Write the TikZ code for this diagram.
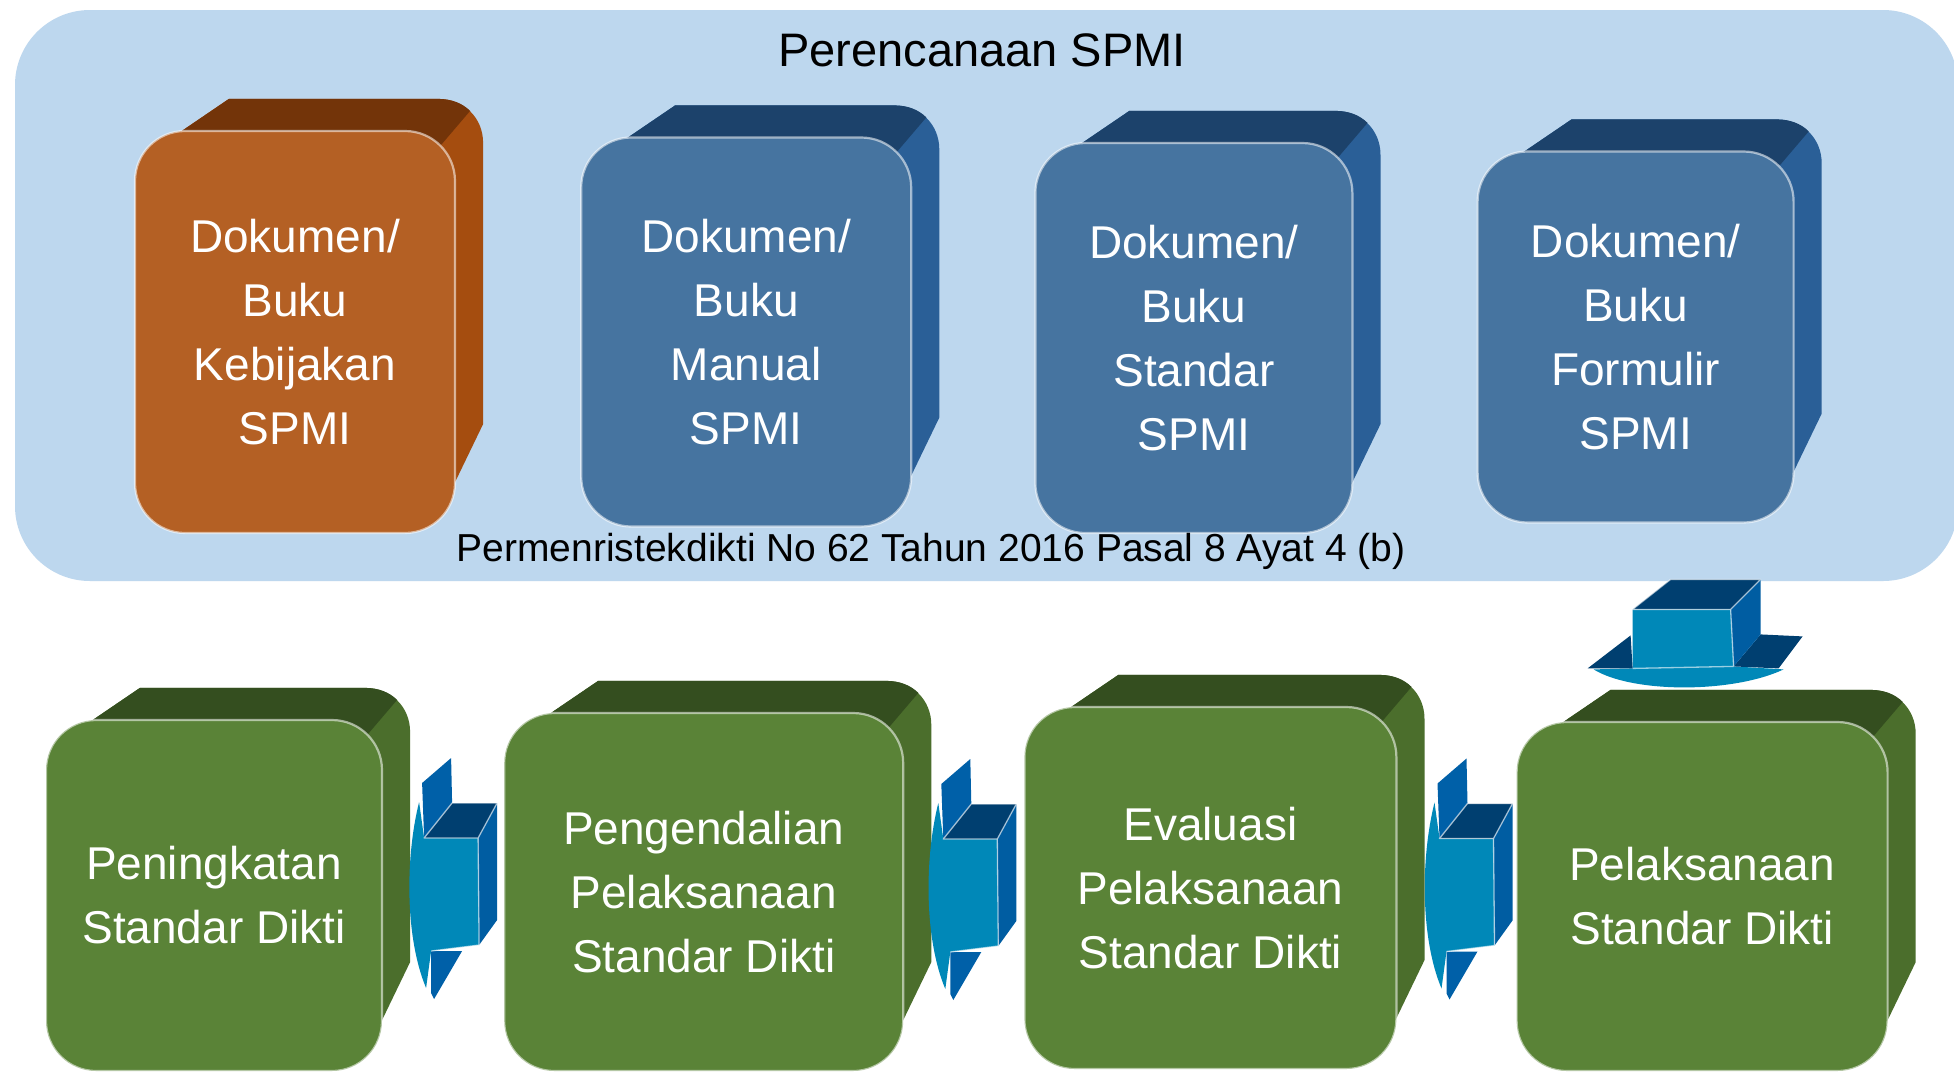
\documentclass[tikz,border=0pt]{standalone}
\usepackage{fontspec}
\setmainfont{Liberation Sans}
\usetikzlibrary{calc,positioning}
\definecolor{panel}{HTML}{BDD7EE}
\definecolor{oranye}{HTML}{B46024}
\definecolor{oranyeatas}{HTML}{733409}
\definecolor{oranyesisi}{HTML}{A54D0F}
\definecolor{biru}{HTML}{4674A0}
\definecolor{biruatas}{HTML}{1C426B}
\definecolor{birusisi}{HTML}{2A5F97}
\definecolor{hijau}{HTML}{5A8337}
\definecolor{hijauatas}{HTML}{344E1F}
\definecolor{hijausisi}{HTML}{4B6E2C}
\definecolor{panahmuka}{HTML}{0088B8}
\definecolor{panahgelap}{HTML}{003F70}
\definecolor{panahsayap}{HTML}{0060A8}
\definecolor{panahsisi}{HTML}{005DA2}
\pgfdeclarelayer{latar}
\pgfdeclarelayer{tengah}
\pgfsetlayers{latar,tengah,main}
\tikzset{
  muka/.style={rounded corners=50pt, draw=white, draw opacity=0.55, line width=2.2pt,
    text=white, align=center, inner sep=0pt, font=\fontsize{46pt}{64pt}\selectfont},
  tepi/.style={draw=white, draw opacity=0.6, line width=1.3pt, line join=round},
  pics/panahkiri/.style={code={
    \fill[panahmuka] (-5,-36) .. controls (-19,20) and (-19,100) .. (2,150) -- (7,113)
      -- (55,107) -- (54,0) -- (0,0) -- cycle;
    \fill[panahsayap] (-2,-55) -- (27,-80) -- (28,-35) -- (0,0) -- cycle;
    \fill[panahsayap] (7,113) -- (38,113) -- (10,161) -- (7,155) -- cycle;
    \fill[panahgelap] (0,0) -- (28,-35) -- (73,-35) -- (54,0) -- cycle;
    \fill[panahsisi] (54,0) -- (73,-35) -- (73,82) -- (55,107) -- cycle;
    \draw[tepi] (0,0) -- (28,-35) -- (73,-35) -- (54,0) -- cycle (54,0) -- (55,107)
      (7,113) -- (55,107);
  }},
  pics/panahbawah/.style={code={
    \fill[panahmuka] (0,0) -- (98,0) -- (101,57) -- (151,60) .. controls (100,84) and (0,84) .. (-39,60)
      -- (0,59) -- cycle;
    \fill[panahgelap] (-45,59) -- (-2,26) -- (0,59) -- cycle;
    \fill[panahgelap] (101,57) -- (128,25) -- (170,27) -- (146,59) -- cycle;
    \fill[panahgelap] (0,0) -- (38,-30) -- (128,-30) -- (98,0) -- cycle;
    \fill[panahsisi] (98,0) -- (128,-30) -- (128,25) -- (101,57) -- cycle;
    \draw[tepi] (0,0) -- (38,-30) -- (128,-30) -- (98,0) -- cycle (98,0) -- (101,57)
      (0,59) -- (101,57);
  }},
}
% sisi tebal di belakang muka kotak: #1 nama node, #2 warna atas, #3 warna sisi
\newcommand{\tebal}[3]{%
  \begin{pgfonlayer}{tengah}
  \fill[#3] ($(#1.north west)+(20,20)$) -- ($(#1.north west)+(95,-31)$) -- ($(#1.north east)+(-18,-31)$)
    .. controls ($(#1.north east)+(8,-31)$) and ($(#1.north east)+(27,-12)$) .. ($(#1.north east)+(27,13)$)
    -- ($(#1.south east)+(27,-110)$) -- ($(#1.south east)+(-2,-50)$) -- cycle;
  \fill[#2] ($(#1.north west)+(20,20)$) -- ($(#1.north west)+(95,-31)$) -- ($(#1.north east)+(-18,-31)$)
    .. controls ($(#1.north east)+(-5,-31)$) and ($(#1.north east)+(6,-27)$) .. ($(#1.north east)+(14,-19)$)
    -- ($(#1.north east)+(-15,15)$) -- cycle;
  \end{pgfonlayer}}

\begin{document}
\begin{tikzpicture}[x=1pt,y=-1pt]
\useasboundingbox (0,0) rectangle (1954,1072);
\begin{pgfonlayer}{latar}
\fill[white] (0,0) rectangle (1954,1072);
\fill[panel, rounded corners=75pt] (15,10) rectangle (1958,581);
\end{pgfonlayer}

\node[font=\fontsize{47pt}{56pt}\selectfont] (judul) at (982,50) {Perencanaan SPMI};

% dokumen SPMI
\node[muka, fill=oranye, minimum width=320pt, minimum height=402pt] (kebijakan) at (295,332)
  {Dokumen/\\Buku\\Kebijakan\\SPMI};
\node[muka, fill=biru, minimum width=330pt, minimum height=389pt, right=124pt of kebijakan] (manual)
  {Dokumen/\\Buku\\Manual\\SPMI};
\node[muka, fill=biru, minimum width=317pt, minimum height=390pt, right=122pt of manual, yshift=-6pt] (standar)
  {Dokumen/\\Buku\\Standar\\SPMI};
\node[muka, fill=biru, minimum width=316pt, minimum height=371pt, right=123pt of standar, yshift=1pt] (formulir)
  {Dokumen/\\Buku\\Formulir\\SPMI};

\node[font=\fontsize{39pt}{46pt}\selectfont] (dasar) at (931,551)
  {Permenristekdikti No 62 Tahun 2016 Pasal 8 Ayat 4 (b)};

% siklus standar
\node[muka, fill=hijau, minimum width=336pt, minimum height=351pt] (peningkatan) at (214,895.5)
  {Peningkatan\\Standar Dikti};
\node[muka, fill=hijau, minimum width=399pt, minimum height=358pt, right=120pt of peningkatan, yshift=3.5pt] (pengendalian)
  {Pengendalian\\Pelaksanaan\\Standar Dikti};
\node[muka, fill=hijau, minimum width=372pt, minimum height=362pt, right=119pt of pengendalian, yshift=4pt] (evaluasi)
  {Evaluasi\\Pelaksanaan\\Standar Dikti};
\node[muka, fill=hijau, minimum width=371pt, minimum height=349pt, right=118pt of evaluasi, yshift=-8.5pt] (pelaksanaan)
  {Pelaksanaan\\Standar Dikti};

\tebal{kebijakan}{oranyeatas}{oranyesisi}
\tebal{manual}{biruatas}{birusisi}
\tebal{standar}{biruatas}{birusisi}
\tebal{formulir}{biruatas}{birusisi}
\tebal{peningkatan}{hijauatas}{hijausisi}
\tebal{pengendalian}{hijauatas}{hijausisi}
\tebal{evaluasi}{hijauatas}{hijausisi}
\tebal{pelaksanaan}{hijauatas}{hijausisi}

% panah
\pic at ($(pelaksanaan.north)+(-69.5,-111.5)$) {panahbawah};
\pic at ($(pelaksanaan.west)+(-76,-58)$) {panahkiri};
\pic at ($(evaluasi.west)+(-80,-49)$) {panahkiri};
\pic at ($(pengendalian.west)+(-79,-54)$) {panahkiri};
\end{tikzpicture}
\end{document}
